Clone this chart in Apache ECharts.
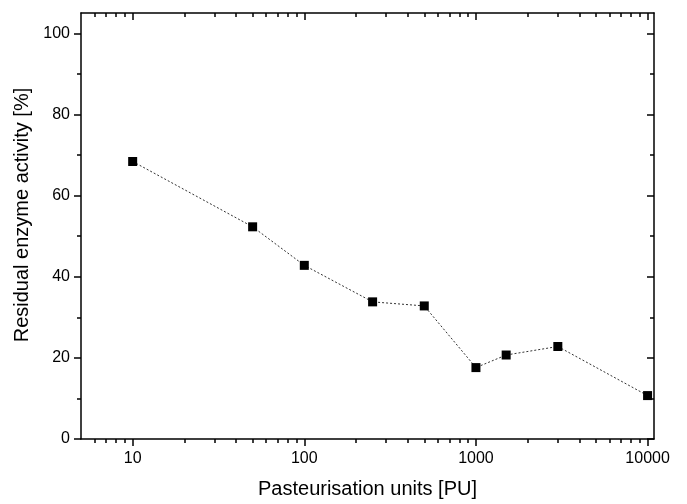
<!DOCTYPE html>
<html>
<head>
<meta charset="utf-8">
<script src="https://cdn.jsdelivr.net/npm/echarts@6/dist/echarts.min.js"></script>
<style>
  html, body { margin: 0; padding: 0; background: #fff; }
  #chart { width: 687px; height: 504px; }
</style>
</head>
<body>
<div id="chart"></div>
<script>
// pasteurisation units and measured residual activity
const pu = [10, 50, 100, 250, 500, 1000, 1500, 3000, 10000];
const activity = [68.4, 52.3, 42.8, 33.8, 32.8, 17.6, 20.7, 22.8, 10.7];

const xMajor = [10, 100, 1000, 10000];
const xMinor = [6, 7, 8, 9, 20, 30, 40, 50, 60, 70, 80, 90,
  200, 300, 400, 500, 600, 700, 800, 900,
  2000, 3000, 4000, 5000, 6000, 7000, 8000, 9000];
const yMajor = [0, 20, 40, 60, 80, 100];
const yMinor = [10, 30, 50, 70, 90];

const FONT = 'Liberation Sans, Arial, sans-serif';
const black = '#000';

function xAxisDef(position, ticks, len, inside, showLine, labels) {
  return {
    type: 'log', logBase: 10, min: 5, max: 10900, position: position,
    axisLine: { show: showLine, onZero: false, lineStyle: { color: black, width: 1.5 } },
    axisTick: { show: true, inside: inside, length: len, customValues: ticks, lineStyle: { color: black, width: 1.5 } },
    axisLabel: labels ? {
      show: true, customValues: labels, margin: 12,
      color: black, fontSize: 16, fontFamily: FONT,
      formatter: (v) => String(Math.round(v))
    } : { show: false },
    splitLine: { show: false }, minorTick: { show: false }
  };
}

function yAxisDef(position, ticks, len, inside, showLine, labels) {
  return {
    type: 'value', min: 0, max: 105, position: position,
    axisLine: { show: showLine, onZero: false, lineStyle: { color: black, width: 1.5 } },
    axisTick: { show: true, inside: inside, length: len, customValues: ticks, lineStyle: { color: black, width: 1.5 } },
    axisLabel: labels ? {
      show: true, customValues: labels, margin: 11,
      color: black, fontSize: 16, fontFamily: FONT
    } : { show: false },
    splitLine: { show: false }
  };
}

const chart = echarts.init(document.getElementById('chart'), null, { renderer: 'canvas' });

const xMain = xAxisDef('bottom', xMajor, 7, false, true, xMajor);
xMain.name = 'Pasteurisation units [PU]';
xMain.nameLocation = 'middle';
xMain.nameGap = 40;
xMain.nameTextStyle = { color: black, fontSize: 20, fontFamily: FONT };

const yMain = yAxisDef('left', yMajor, 7, false, true, yMajor);
yMain.name = 'Residual enzyme activity [%]';
yMain.nameLocation = 'middle';
yMain.nameGap = 48;
yMain.nameTextStyle = { color: black, fontSize: 20, fontFamily: FONT, padding: [0, 0, 0, 22] };

chart.setOption({
  backgroundColor: '#fff',
  animation: false,
  grid: { left: 81, right: 33, top: 13, bottom: 61, containLabel: false },
  xAxis: [
    xMain,
    xAxisDef('bottom', xMinor, 4, false, false, null),
    xAxisDef('top', xMajor, 7, true, true, null),
    xAxisDef('top', xMinor, 4, true, false, null)
  ],
  yAxis: [
    yMain,
    yAxisDef('left', yMinor, 4, false, false, null),
    yAxisDef('right', yMajor, 7, true, true, null),
    yAxisDef('right', yMinor, 4, true, false, null)
  ],
  series: [{
    type: 'line',
    xAxisIndex: 0,
    yAxisIndex: 0,
    data: pu.map((v, i) => [v, activity[i]]),
    symbol: 'rect',
    symbolSize: 9,
    itemStyle: { color: black },
    lineStyle: { color: '#333', width: 1, type: [2, 2] },
    z: 5
  }]
});
</script>
</body>
</html>
